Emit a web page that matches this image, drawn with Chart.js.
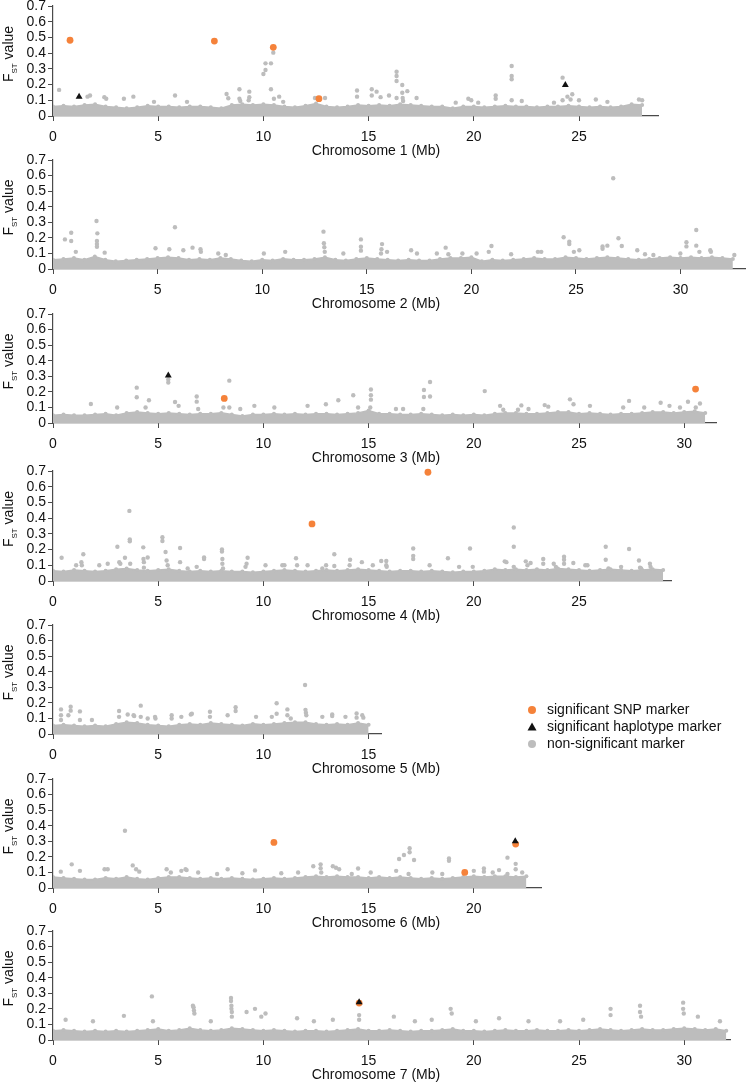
<!DOCTYPE html>
<html>
<head>
<meta charset="utf-8">
<script src="https://cdn.jsdelivr.net/npm/chart.js@4.4.1/dist/chart.umd.min.js"></script>
<style>
  body { margin: 0; background: #fff; width: 749px; height: 1083px; overflow: hidden; position: relative; }
  .panel { position: absolute; left: 0; width: 749px; }
</style>
</head>
<body>
<div id="root"></div>
<script>
// band tops of the dense marker cloud, one value per 0.5 Mb bin starting at 0 Mb
const BIN = 0.5;
const chr1Band = [0.06,0.065,0.06,0.07,0.075,0.06,0.055,0.05,0.055,0.065,0.06,0.06,0.055,0.06,0.06,0.055,0.05,0.07,0.075,0.07,0.075,0.07,0.06,0.055,0.065,0.08,0.06,0.055,0.06,0.07,0.065,0.07,0.065,0.075,0.07,0.065,0.06,0.06,0.05,0.06,0.06,0.055,0.06,0.065,0.06,0.06,0.055,0.06,0.06,0.065,0.06,0.055,0.06,0.055,0.06,0.075,0.07];
const chr2Band = [0.06,0.065,0.07,0.06,0.08,0.06,0.05,0.055,0.06,0.065,0.07,0.075,0.07,0.06,0.065,0.06,0.07,0.065,0.055,0.05,0.06,0.055,0.065,0.06,0.06,0.065,0.075,0.06,0.055,0.065,0.07,0.065,0.06,0.055,0.06,0.055,0.055,0.065,0.07,0.07,0.075,0.05,0.06,0.055,0.06,0.065,0.07,0.065,0.065,0.075,0.07,0.065,0.07,0.075,0.07,0.065,0.06,0.065,0.07,0.075,0.07,0.075,0.07,0.075,0.07,0.065];
const chr3Band = [0.05,0.055,0.05,0.05,0.055,0.06,0.05,0.065,0.07,0.065,0.06,0.065,0.06,0.055,0.06,0.06,0.065,0.055,0.045,0.055,0.055,0.06,0.055,0.06,0.055,0.06,0.06,0.055,0.06,0.065,0.08,0.06,0.06,0.055,0.055,0.06,0.055,0.05,0.055,0.05,0.055,0.05,0.06,0.065,0.065,0.06,0.06,0.065,0.07,0.07,0.06,0.065,0.06,0.055,0.06,0.06,0.065,0.07,0.07,0.065,0.07,0.075,0.065];
const chr4Band = [0.065,0.06,0.07,0.065,0.06,0.065,0.075,0.08,0.07,0.065,0.07,0.075,0.065,0.06,0.065,0.06,0.065,0.06,0.06,0.055,0.06,0.065,0.07,0.065,0.06,0.065,0.07,0.065,0.07,0.075,0.07,0.065,0.06,0.065,0.065,0.06,0.065,0.06,0.055,0.06,0.06,0.065,0.075,0.07,0.075,0.07,0.075,0.07,0.08,0.075,0.07,0.065,0.07,0.075,0.07,0.065,0.07,0.075,0.07];
const chr5Band = [0.055,0.06,0.055,0.05,0.055,0.05,0.065,0.075,0.07,0.06,0.055,0.05,0.06,0.065,0.06,0.07,0.065,0.06,0.055,0.065,0.06,0.065,0.07,0.075,0.075,0.065,0.06,0.065,0.06,0.07,0.06];
const chr6Band = [0.07,0.065,0.06,0.055,0.055,0.065,0.06,0.07,0.06,0.055,0.065,0.07,0.07,0.065,0.06,0.065,0.06,0.065,0.06,0.055,0.06,0.065,0.06,0.065,0.07,0.075,0.07,0.075,0.07,0.07,0.065,0.07,0.065,0.07,0.065,0.06,0.065,0.06,0.065,0.07,0.075,0.07,0.075,0.075,0.07,0.075];
const chr7Band = [0.06,0.065,0.06,0.055,0.06,0.055,0.06,0.055,0.06,0.065,0.07,0.06,0.065,0.075,0.065,0.06,0.065,0.075,0.07,0.065,0.06,0.065,0.06,0.055,0.06,0.06,0.055,0.06,0.065,0.07,0.06,0.06,0.065,0.06,0.055,0.06,0.06,0.065,0.07,0.06,0.06,0.055,0.06,0.065,0.06,0.06,0.065,0.06,0.06,0.065,0.06,0.065,0.07,0.065,0.06,0.065,0.07,0.065,0.065,0.07,0.075,0.07,0.065,0.07,0.06];

// non-significant markers standing out of the cloud: [Mb, Fst]
const chr1Gray = [[0.29,0.166],[1.64,0.123],[1.76,0.13],[2.44,0.12],[2.53,0.11],[3.37,0.11],[3.82,0.123],[4.8,0.09],[5.8,0.13],[6.37,0.09],[8.25,0.14],[8.33,0.113],[8.86,0.17],[8.86,0.11],[8.9,0.095],[9.33,0.155],[9.33,0.12],[9.3,0.1],[10.0,0.267],[10.1,0.293],[10.1,0.335],[10.36,0.335],[10.36,0.17],[10.47,0.403],[10.5,0.11],[10.75,0.123],[10.94,0.09],[12.45,0.115],[12.93,0.115],[14.45,0.162],[14.45,0.123],[15.15,0.17],[15.15,0.13],[15.38,0.155],[15.57,0.12],[15.97,0.13],[16.33,0.282],[16.33,0.255],[16.33,0.223],[16.33,0.115],[16.6,0.197],[16.6,0.148],[16.62,0.115],[16.64,0.095],[16.84,0.158],[17.28,0.115],[19.14,0.085],[19.74,0.11],[19.88,0.1],[20.21,0.085],[21.04,0.13],[21.04,0.11],[21.8,0.318],[21.8,0.255],[21.8,0.234],[21.8,0.1],[22.28,0.095],[23.81,0.085],[24.22,0.244],[24.22,0.1],[24.45,0.123],[24.68,0.138],[24.6,0.105],[25.0,0.1],[25.8,0.105],[26.35,0.09],[27.85,0.105],[28.0,0.1]];
const chr2Gray = [[0.57,0.19],[0.87,0.233],[0.87,0.18],[1.09,0.11],[2.08,0.308],[2.12,0.229],[2.1,0.18],[2.1,0.16],[2.1,0.143],[2.47,0.105],[4.9,0.133],[5.56,0.127],[5.83,0.268],[6.23,0.12],[6.67,0.137],[7.05,0.127],[7.07,0.11],[7.9,0.1],[8.26,0.09],[10.08,0.1],[11.1,0.11],[12.93,0.24],[12.95,0.165],[12.97,0.14],[12.99,0.11],[13.88,0.1],[14.72,0.19],[14.72,0.143],[14.72,0.118],[15.73,0.16],[15.7,0.127],[15.68,0.1],[15.97,0.11],[17.12,0.12],[17.4,0.1],[18.35,0.1],[18.77,0.137],[18.9,0.095],[19.57,0.1],[20.25,0.1],[20.83,0.11],[20.96,0.148],[21.9,0.095],[23.18,0.11],[23.34,0.11],[24.41,0.204],[24.68,0.175],[24.68,0.16],[24.9,0.11],[25.16,0.12],[26.27,0.145],[26.27,0.13],[26.5,0.15],[26.78,0.583],[27.03,0.197],[27.19,0.148],[27.93,0.12],[28.3,0.095],[28.7,0.09],[29.99,0.1],[30.28,0.172],[30.28,0.145],[30.75,0.25],[30.75,0.15],[30.9,0.11],[31.42,0.12],[31.45,0.11],[32.57,0.09]];
const chr3Gray = [[1.8,0.122],[3.05,0.1],[3.98,0.227],[3.98,0.165],[4.4,0.1],[4.56,0.146],[5.48,0.28],[5.48,0.26],[5.8,0.135],[5.97,0.11],[6.83,0.17],[6.83,0.137],[6.9,0.09],[8.1,0.1],[8.38,0.272],[8.38,0.1],[8.9,0.09],[9.57,0.11],[10.52,0.1],[12.1,0.11],[12.97,0.12],[13.56,0.146],[14.27,0.178],[14.5,0.1],[15.11,0.215],[15.11,0.178],[15.11,0.15],[15.08,0.1],[16.3,0.09],[16.64,0.09],[17.63,0.212],[17.63,0.167],[17.92,0.263],[17.92,0.17],[17.6,0.09],[20.52,0.205],[21.25,0.11],[21.4,0.085],[22.26,0.113],[22.1,0.085],[22.6,0.09],[23.37,0.115],[23.54,0.105],[24.57,0.152],[24.74,0.12],[25.52,0.11],[27.1,0.1],[27.38,0.142],[28.1,0.1],[28.88,0.13],[29.3,0.11],[29.8,0.1],[30.18,0.136],[30.75,0.125],[30.55,0.1]];
const chr4Gray = [[0.41,0.148],[1.1,0.1],[1.35,0.12],[1.37,0.1],[1.44,0.17],[2.2,0.1],[2.6,0.11],[3.06,0.218],[3.15,0.12],[3.2,0.11],[3.42,0.148],[3.63,0.446],[3.65,0.265],[3.65,0.253],[3.67,0.11],[4.29,0.214],[4.3,0.14],[4.32,0.12],[4.32,0.085],[4.5,0.15],[5.2,0.278],[5.2,0.255],[5.35,0.185],[5.4,0.13],[5.45,0.1],[6.04,0.21],[6.04,0.12],[6.4,0.08],[6.83,0.09],[7.18,0.15],[7.18,0.14],[8.03,0.2],[8.03,0.187],[8.05,0.14],[8.05,0.11],[8.08,0.08],[9.25,0.148],[9.2,0.11],[9.15,0.09],[10.1,0.1],[10.9,0.1],[11.0,0.1],[11.55,0.145],[11.6,0.1],[12.1,0.1],[12.98,0.1],[13.37,0.17],[12.8,0.08],[13.37,0.095],[14.12,0.135],[14.1,0.1],[14.68,0.12],[15.2,0.1],[15.6,0.127],[15.84,0.127],[15.84,0.1],[15.86,0.09],[17.12,0.207],[17.12,0.16],[17.12,0.14],[17.9,0.1],[18.77,0.145],[19.3,0.09],[19.82,0.207],[19.95,0.09],[21.47,0.125],[21.55,0.12],[21.9,0.34],[21.9,0.218],[21.9,0.09],[22.47,0.125],[22.7,0.115],[22.55,0.1],[23.3,0.14],[23.3,0.11],[23.8,0.11],[23.9,0.09],[24.29,0.155],[24.29,0.135],[24.29,0.11],[24.73,0.115],[25.3,0.1],[25.4,0.1],[26.27,0.218],[26.27,0.135],[26.4,0.08],[27.0,0.09],[27.38,0.204],[27.85,0.13],[27.9,0.085],[27.95,0.08],[28.37,0.11],[28.4,0.09]];
const chr5Gray = [[0.38,0.158],[0.38,0.12],[0.38,0.09],[0.73,0.12],[0.84,0.175],[0.84,0.15],[1.28,0.145],[1.28,0.09],[1.85,0.09],[3.14,0.148],[3.14,0.11],[3.55,0.125],[3.83,0.12],[3.86,0.115],[4.17,0.182],[4.17,0.11],[4.5,0.1],[4.85,0.11],[4.87,0.1],[5.64,0.12],[5.64,0.1],[6.1,0.11],[6.55,0.125],[6.6,0.13],[7.46,0.143],[7.46,0.11],[8.3,0.12],[8.68,0.172],[8.68,0.148],[9.65,0.11],[10.4,0.11],[10.63,0.197],[10.63,0.13],[11.14,0.158],[11.14,0.12],[11.3,0.1],[11.98,0.315],[12.0,0.155],[12.02,0.137],[12.04,0.12],[12.8,0.11],[13.27,0.125],[13.27,0.115],[13.9,0.11],[14.43,0.132],[14.43,0.105],[14.7,0.12],[14.75,0.105]];
const chr6Gray = [[0.37,0.105],[0.89,0.152],[1.28,0.11],[2.45,0.12],[2.6,0.12],[3.42,0.368],[3.79,0.145],[3.95,0.12],[4.1,0.105],[5.4,0.12],[5.6,0.1],[6.1,0.11],[6.3,0.12],[6.35,0.115],[6.9,0.1],[7.8,0.09],[8.3,0.12],[9.0,0.095],[9.6,0.113],[10.85,0.095],[11.65,0.1],[12.37,0.14],[12.72,0.152],[12.72,0.127],[12.75,0.1],[13.3,0.14],[13.45,0.13],[13.6,0.12],[14.2,0.09],[14.5,0.125],[15.1,0.1],[16.31,0.11],[16.45,0.186],[16.68,0.212],[16.95,0.255],[16.95,0.23],[17.16,0.18],[16.9,0.09],[18.03,0.1],[18.5,0.09],[18.82,0.19],[18.82,0.175],[20.0,0.11],[20.48,0.125],[20.48,0.105],[20.9,0.1],[21.2,0.115],[21.6,0.195],[21.6,0.09],[21.99,0.155],[21.99,0.12],[22.3,0.1]];
const chr7Gray = [[0.6,0.13],[1.9,0.12],[3.37,0.155],[4.7,0.28],[4.75,0.12],[6.65,0.22],[6.68,0.21],[6.7,0.19],[6.72,0.17],[7.5,0.12],[8.46,0.27],[8.46,0.25],[8.48,0.22],[8.48,0.2],[8.5,0.18],[8.5,0.15],[9.2,0.18],[9.6,0.2],[9.9,0.15],[10.1,0.17],[11.6,0.14],[12.4,0.12],[13.3,0.13],[14.55,0.16],[14.55,0.13],[16.2,0.15],[17.2,0.12],[18.0,0.13],[18.9,0.2],[18.95,0.17],[20.1,0.12],[21.2,0.14],[22.6,0.12],[24.1,0.12],[25.2,0.13],[26.5,0.2],[26.5,0.16],[27.9,0.22],[27.9,0.18],[27.95,0.15],[29.95,0.24],[29.95,0.2],[29.98,0.17],[30.65,0.15],[31.7,0.12]];

// significant SNP markers [Mb, Fst]
const chr1Snp = [[0.81,0.482],[7.67,0.477],[10.47,0.437],[12.64,0.11]];
const chr2Snp = [];
const chr3Snp = [[8.14,0.158],[30.54,0.218]];
const chr4Snp = [[12.31,0.363],[17.82,0.692]];
const chr5Snp = [];
const chr6Snp = [[10.5,0.293],[19.57,0.1],[21.99,0.282]];
const chr7Snp = [[14.55,0.237]];

// significant haplotype markers [Mb, Fst]
const chr1Hap = [[1.24,0.123],[24.35,0.197]];
const chr2Hap = [];
const chr3Hap = [[5.48,0.305]];
const chr4Hap = [];
const chr5Hap = [];
const chr6Hap = [[21.97,0.3]];
const chr7Hap = [[14.55,0.243]];

const chromosomes = [1, 2, 3, 4, 5, 6, 7];
const chromosomeEnds = [28.8, 33.08, 31.55, 29.4, 15.6, 23.2, 32.2];
const bands = [chr1Band, chr2Band, chr3Band, chr4Band, chr5Band, chr6Band, chr7Band];
const grays = [chr1Gray, chr2Gray, chr3Gray, chr4Gray, chr5Gray, chr6Gray, chr7Gray];
const snps = [chr1Snp, chr2Snp, chr3Snp, chr4Snp, chr5Snp, chr6Snp, chr7Snp];
const haps = [chr1Hap, chr2Hap, chr3Hap, chr4Hap, chr5Hap, chr6Hap, chr7Hap];

// layout: pixel row of the 0.7 tick and of the x axis for each panel
const panelTops = [6, 160, 314, 471, 625, 779, 931];
const panelBottoms = [116, 269, 423, 581, 734, 888, 1040];

const GRAY = '#bdbdbd';
const ORANGE = '#f5823a';
const BLACK = '#111';
const AXIS = '#4a4a4a';
const FONT = '"Liberation Sans", Arial, sans-serif';
const PX_PER_MB = 21.04;
const Y_AXIS_W = 53;
const PAD_TOP = 12;
const X_AXIS_H = 46;

const toPoints = arr => arr.map(p => ({ x: p[0], y: p[1] }));

function drawYTitle(ctx, cx, cy) {
  ctx.save();
  ctx.translate(cx, cy);
  ctx.rotate(-Math.PI / 2);
  ctx.fillStyle = BLACK;
  ctx.textBaseline = 'alphabetic';
  ctx.font = '14px ' + FONT;
  const wF = ctx.measureText('F').width;
  const wV = ctx.measureText(' value').width;
  ctx.font = '8px ' + FONT;
  const wS = ctx.measureText('ST').width;
  let x = -(wF + wS + wV) / 2;
  ctx.font = '14px ' + FONT;
  ctx.fillText('F', x, 0);
  x += wF;
  ctx.font = '8px ' + FONT;
  ctx.fillText('ST', x, 3.5);
  x += wS;
  ctx.font = '14px ' + FONT;
  ctx.fillText(' value', x, 0);
  ctx.restore();
}

function drawLegend(ctx, offsetY) {
  const items = [
    { y: 710, label: 'significant SNP marker', kind: 'snp' },
    { y: 727, label: 'significant haplotype marker', kind: 'hap' },
    { y: 744, label: 'non-significant marker', kind: 'gray' }
  ];
  ctx.save();
  ctx.font = '14px ' + FONT;
  ctx.textBaseline = 'middle';
  items.forEach(it => {
    const y = it.y - offsetY;
    ctx.beginPath();
    if (it.kind === 'hap') {
      ctx.fillStyle = BLACK;
      ctx.moveTo(532, y - 4.5);
      ctx.lineTo(536.5, y + 3.5);
      ctx.lineTo(527.5, y + 3.5);
      ctx.closePath();
    } else {
      ctx.fillStyle = it.kind === 'snp' ? ORANGE : GRAY;
      ctx.arc(532, y, 4, 0, Math.PI * 2);
    }
    ctx.fill();
    ctx.fillStyle = BLACK;
    ctx.fillText(it.label, 547, y);
  });
  ctx.restore();
}

const root = document.getElementById('root');

chromosomes.forEach((chr, i) => {
  const top = panelTops[i];
  const bottom = panelBottoms[i];
  const end = chromosomeEnds[i];
  const canvasTop = top - PAD_TOP;
  const h = (bottom - top) + PAD_TOP + X_AXIS_H;

  const wrap = document.createElement('div');
  wrap.className = 'panel';
  wrap.style.top = canvasTop + 'px';
  wrap.style.height = h + 'px';
  const canvas = document.createElement('canvas');
  canvas.width = 749;
  canvas.height = h;
  wrap.appendChild(canvas);
  root.appendChild(wrap);

  const bandData = bands[i].map((v, k) => ({ x: k * BIN, y: v }));

  const textPlugin = {
    id: 'panelText' + chr,
    afterDraw(chart) {
      const { ctx, chartArea } = chart;
      drawYTitle(ctx, 13, (chartArea.top + chartArea.bottom) / 2 - 7);
      ctx.save();
      ctx.font = '14px ' + FONT;
      ctx.fillStyle = BLACK;
      ctx.textAlign = 'center';
      ctx.textBaseline = 'middle';
      ctx.fillText('Chromosome ' + chr + ' (Mb)', 376, chartArea.bottom + 35);
      ctx.restore();
      if (chr === 5) drawLegend(ctx, canvasTop);
    }
  };

  new Chart(canvas, {
    type: 'scatter',
    data: {
      datasets: [
        { label: 'hap', data: toPoints(haps[i]), pointStyle: 'triangle', pointRadius: 4, backgroundColor: BLACK, borderColor: BLACK, borderWidth: 0, clip: false },
        { label: 'snp', data: toPoints(snps[i]), pointRadius: 3.4, backgroundColor: ORANGE, borderWidth: 0, clip: false },
        { label: 'gray', data: toPoints(grays[i]), pointRadius: 2.2, backgroundColor: GRAY, borderWidth: 0, clip: false },
        { type: 'line', label: 'band', data: bandData, fill: 'origin', backgroundColor: GRAY, borderColor: GRAY, borderWidth: 1.5, pointRadius: 2, pointBackgroundColor: GRAY, pointBorderWidth: 0, tension: 0 }
      ]
    },
    options: {
      responsive: false,
      animation: false,
      devicePixelRatio: 1,
      events: [],
      layout: { padding: { top: PAD_TOP, left: 0, bottom: 0, right: 749 - (Y_AXIS_W + PX_PER_MB * end) } },
      plugins: { legend: { display: false }, tooltip: { enabled: false } },
      scales: {
        x: {
          type: 'linear', min: 0, max: end, z: 1,
          ticks: { stepSize: 5, includeBounds: false, maxRotation: 0, autoSkip: false, padding: 8, color: BLACK, font: { family: FONT, size: 14 } },
          grid: { display: true, drawOnChartArea: false, drawTicks: true, tickLength: 5, tickColor: AXIS },
          border: { display: true, color: AXIS, width: 1.2 },
          afterFit(s) { s.height = X_AXIS_H; }
        },
        y: {
          min: 0, max: 0.7, z: 1,
          ticks: { stepSize: 0.1, autoSkip: false, padding: 2, color: BLACK, font: { family: FONT, size: 14 }, callback: v => String(+v.toFixed(1)) },
          grid: { display: true, drawOnChartArea: false, drawTicks: true, tickLength: 5, tickColor: AXIS },
          border: { display: true, color: AXIS, width: 1.2 },
          afterFit(s) { s.width = Y_AXIS_W; }
        }
      }
    },
    plugins: [textPlugin]
  });
});
</script>
</body>
</html>
